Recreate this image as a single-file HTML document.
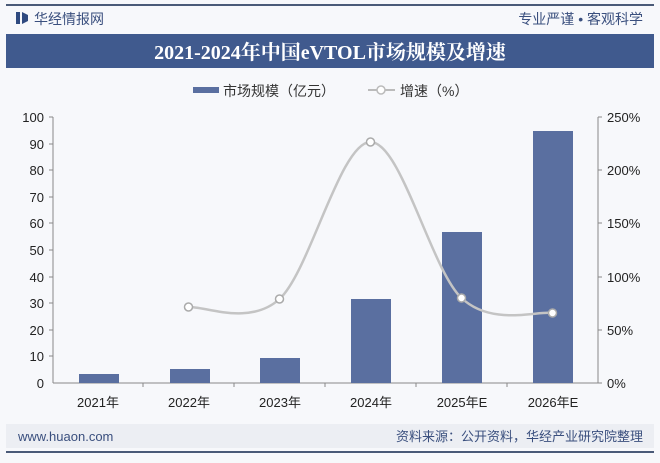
<!DOCTYPE html>
<html><head><meta charset="utf-8"><style>
body{margin:0;width:660px;height:458px;background:#f7f8fa;overflow:hidden;font-family:"Liberation Sans","Noto Sans CJK SC",sans-serif}
</style></head><body>
<svg width="660" height="458" xmlns="http://www.w3.org/2000/svg" style="font-family:'Liberation Sans','Noto Sans CJK SC',sans-serif">
<rect width="660" height="458" fill="#f7f8fb"/>
<rect x="6" y="4" width="648" height="2" fill="#4a5a78"/>
<rect x="16" y="12" width="4" height="12" fill="#2f4a80"/><path d="M22 12 L28 15 L28 21 L22 24Z" fill="#2f4a80"/>
<text x="34" y="24" font-size="14" fill="#3a4f7e">华经情报网</text>
<text x="643" y="24" font-size="14" fill="#3a4f7e" text-anchor="end">专业严谨 • 客观科学</text>
<rect x="6" y="34" width="648" height="34" fill="#405a8e"/>
<text x="330" y="59" font-size="20" font-weight="bold" fill="#fff" text-anchor="middle" font-family="'Liberation Serif','Noto Serif CJK SC',serif">2021-2024年中国eVTOL市场规模及增速</text>
<rect x="193" y="87" width="26" height="6" fill="#5a6fa0"/>
<text x="223" y="96" font-size="14" fill="#333">市场规模（亿元）</text>
<line x1="368" y1="90" x2="395" y2="90" stroke="#bbb" stroke-width="2"/><circle cx="381" cy="90" r="4" fill="#fff" stroke="#bbb" stroke-width="1.5"/>
<text x="400" y="96" font-size="14" fill="#333">增速（%）</text>
<line x1="53" y1="117" x2="53" y2="383" stroke="#888"/>
<line x1="53" y1="383" x2="598" y2="383" stroke="#888"/>
<line x1="598" y1="117" x2="598" y2="383" stroke="#888"/>
<g font-size="13" fill="#222" text-anchor="end">
<text x="44" y="122">100</text><text x="44" y="149">90</text><text x="44" y="175">80</text><text x="44" y="202">70</text><text x="44" y="228">60</text><text x="44" y="255">50</text><text x="44" y="282">40</text><text x="44" y="308">30</text><text x="44" y="335">20</text><text x="44" y="361">10</text><text x="44" y="388">0</text>
</g>
<g stroke="#888"><line x1="49" y1="117" x2="53" y2="117"/><line x1="49" y1="144" x2="53" y2="144"/><line x1="49" y1="170" x2="53" y2="170"/><line x1="49" y1="197" x2="53" y2="197"/><line x1="49" y1="223" x2="53" y2="223"/><line x1="49" y1="250" x2="53" y2="250"/><line x1="49" y1="277" x2="53" y2="277"/><line x1="49" y1="303" x2="53" y2="303"/><line x1="49" y1="330" x2="53" y2="330"/><line x1="49" y1="356" x2="53" y2="356"/>
<line x1="598" y1="117" x2="602" y2="117"/><line x1="598" y1="170" x2="602" y2="170"/><line x1="598" y1="223" x2="602" y2="223"/><line x1="598" y1="277" x2="602" y2="277"/><line x1="598" y1="330" x2="602" y2="330"/><line x1="598" y1="383" x2="602" y2="383"/>
<line x1="143" y1="383" x2="143" y2="387"/><line x1="234" y1="383" x2="234" y2="387"/><line x1="325" y1="383" x2="325" y2="387"/><line x1="416" y1="383" x2="416" y2="387"/><line x1="507" y1="383" x2="507" y2="387"/></g>
<g font-size="13" fill="#222">
<text x="607" y="122">250%</text><text x="607" y="175">200%</text><text x="607" y="228">150%</text><text x="607" y="282">100%</text><text x="607" y="335">50%</text><text x="607" y="388">0%</text>
</g>
<g fill="#5a6fa0">
<rect x="79" y="374" width="40" height="9"/><rect x="170" y="369" width="40" height="14"/><rect x="260" y="358" width="40" height="25"/><rect x="351" y="299" width="40" height="84"/><rect x="442" y="232" width="40" height="151"/><rect x="533" y="131" width="40" height="252"/>
</g>
<g font-size="13" fill="#222" text-anchor="middle">
<text x="98" y="407">2021年</text><text x="189" y="407">2022年</text><text x="280" y="407">2023年</text><text x="371" y="407">2024年</text><text x="462" y="407">2025年E</text><text x="553" y="407">2026年E</text>
</g>
<path d="M188.5 307 C203.7 305.7 249.2 326.5 279.5 299 C309.8 271.5 340.2 142.2 370.5 142 C400.8 141.8 431.2 269.5 461.5 298 C491.8 326.5 537.3 310.5 552.5 313" fill="none" stroke="#c4c4c4" stroke-width="2.5"/>
<g fill="#fff" stroke="#aaa" stroke-width="1.5"><circle cx="188.5" cy="307" r="4"/><circle cx="279.5" cy="299" r="4"/><circle cx="370.5" cy="142" r="4"/><circle cx="461.5" cy="298" r="4"/><circle cx="552.5" cy="313" r="4"/></g>
<rect x="6" y="424" width="648" height="24" fill="#eceef3"/>
<text x="18" y="441" font-size="13" fill="#3a4f7e">www.huaon.com</text>
<text x="643" y="441" font-size="13" fill="#3a4f7e" text-anchor="end">资料来源：公开资料，华经产业研究院整理</text>
<rect x="6" y="451" width="648" height="2" fill="#4a5a78"/>
</svg>
</body></html>
